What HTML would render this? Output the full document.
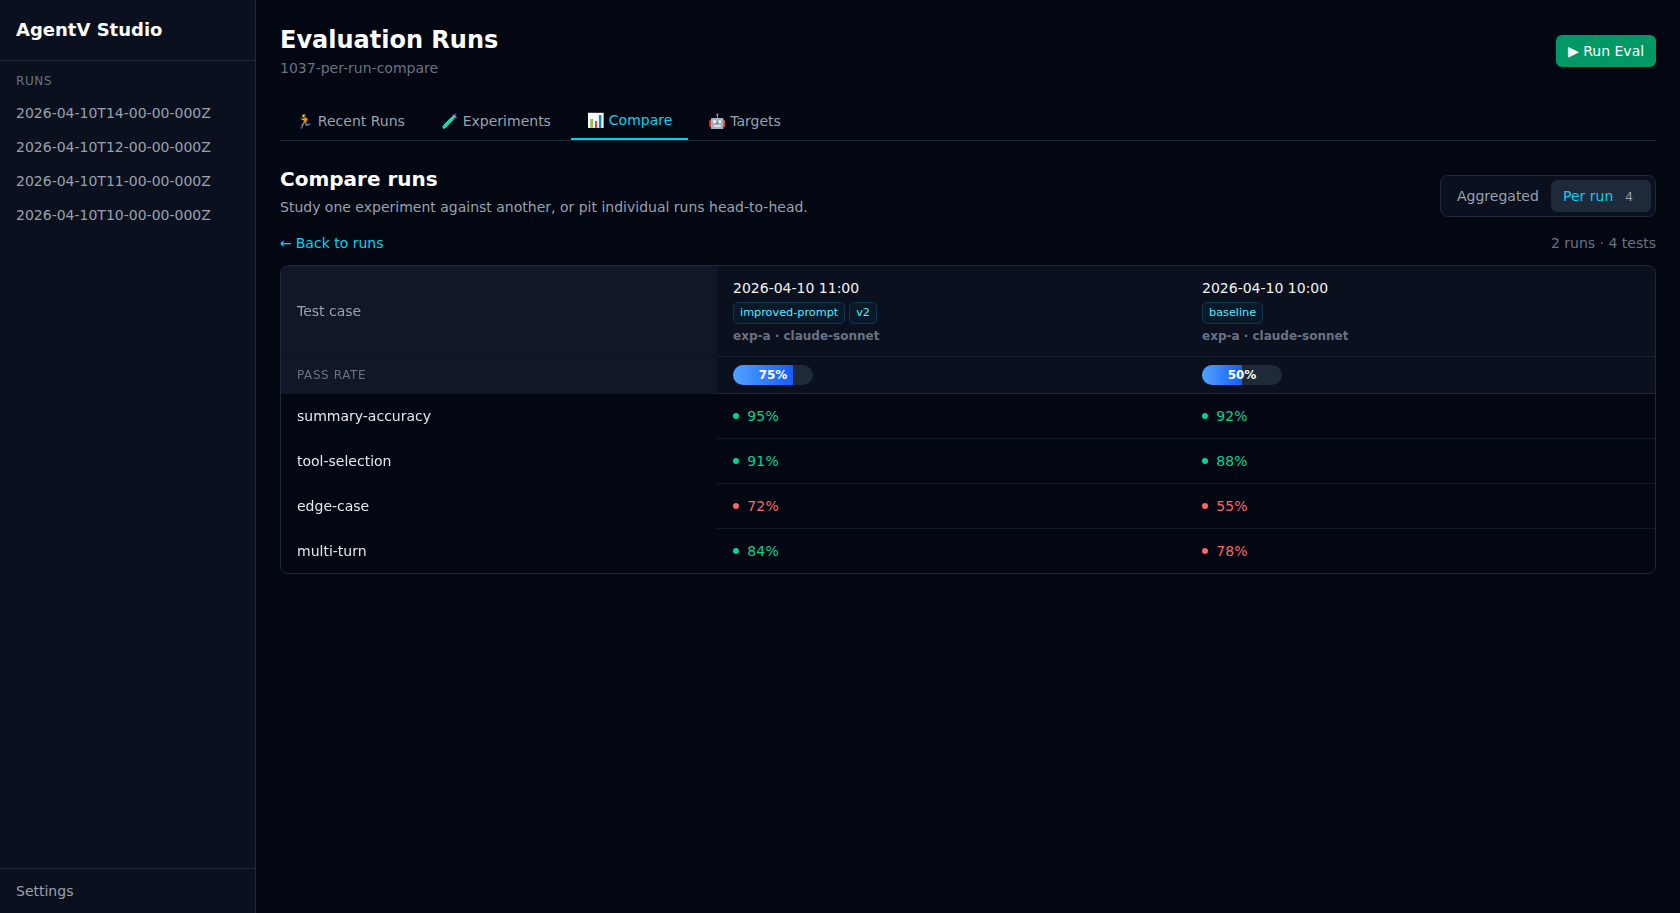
<!DOCTYPE html>
<html lang="en">
<head>
<meta charset="utf-8">
<title>AgentV Studio</title>
<style>
*{box-sizing:border-box;margin:0;padding:0}
html,body{width:1680px;height:913px;overflow:hidden;background:#030712}
body{font-family:"DejaVu Sans","Liberation Sans",sans-serif;font-size:14px;line-height:20px;color:#f3f4f6;position:relative}
svg{display:block}
/* sidebar */
.side{position:absolute;left:0;top:0;width:256px;height:913px;background:#0a101d;border-right:1px solid #1e2939}
.brand{height:61px;border-bottom:1px solid #1e2939;padding:16px 16px 0 16px;font-size:18px;line-height:28px;font-weight:700;color:#fff}
.slabel{position:absolute;left:16px;top:73px;font-size:12px;line-height:16px;letter-spacing:.6px;color:#6a7282;text-transform:uppercase}
.sitem{position:absolute;left:16px;font-size:14px;line-height:20px;color:#99a1af}
.sfoot{position:absolute;left:0;bottom:0;width:255px;height:45px;border-top:1px solid #1e2939;padding:12px 16px 0;color:#99a1af}
/* main */
.main{position:absolute;left:256px;top:0;width:1424px;height:913px}
h1{position:absolute;left:24px;top:24px;font-size:24px;line-height:32px;font-weight:700;color:#fff}
.sub{position:absolute;left:24px;top:58px;font-size:14px;line-height:20px;color:#6a7282}
.btn{position:absolute;left:1300px;top:35px;width:100px;height:32px;border-radius:6px;background:#009966;color:#fff;font-size:14px;line-height:32px;padding-left:12px;white-space:nowrap}
.tabs{position:absolute;left:24px;top:102px;width:1376px;height:39px;border-bottom:1px solid #1e2939;display:flex;gap:4px}
.tab{position:relative;height:38px;padding:9px 16px 0;color:#99a1af;font-size:14px;line-height:20px;white-space:nowrap}
.tab.on{color:#00d3f2;border-bottom:2px solid #00d3f2;padding-top:8px}
.ico{display:inline-block;width:17.43px;height:1px}
.tabs svg{position:absolute;top:6px;width:30px;height:26px;overflow:visible}
h2{position:absolute;left:24px;top:165px;font-size:20px;line-height:28px;font-weight:700;color:#fff}
.desc{position:absolute;left:24px;top:197px;color:#99a1af}
.back{position:absolute;left:24px;top:233px;color:#00d3f2}
.count{position:absolute;right:24px;top:233px;color:#6a7282}
.seg{position:absolute;left:1184px;top:175px;width:216px;height:42px;border:1px solid #1e2939;border-radius:8px;background:#0a101d}
.seg>span{position:absolute;top:4px;height:32px;line-height:32px;border-radius:6px;font-size:14px;white-space:nowrap}
.seg i{font-style:normal;font-size:12px;color:#99a1af;margin-left:6px;padding:0 6px}
/* table */
.tbl{position:absolute;left:24px;top:265px;width:1376px;height:309px;border:1px solid #1e2939;border-radius:8px;overflow:hidden}
.tbl div{position:absolute}
.c0{left:0;width:436px}
.c1{left:436px;width:469px}
.c2{left:905px;width:469px}
.hd{top:0;height:90px}
.pr{top:91px;height:36px}
.c0.pr{height:37px}
.c0.hd,.c0.pr{background:#101828}
.c1.hd,.c2.hd,.c1.pr,.c2.pr{background:#0a101d}
.ln{left:0;width:1374px;height:1px;background:#1e2939}
.ln2{left:436px;width:938px;height:1px;background:#111a2a}
.name{left:16px;font-size:14px;line-height:20px;color:#e5e7eb;white-space:nowrap;will-change:transform}
.date{left:16px;top:12px;font-size:14px;line-height:20px;color:#f3f4f6;white-space:nowrap}
.chips{left:16px;top:36px;height:22px;white-space:nowrap;display:flex;gap:4px}
.chips span{display:block;height:22px;border:1px solid #0e384c;background:#08192a;border-radius:5px;padding:0 6px;font-size:11.25px;line-height:20px;color:#53eafd}
.meta{left:16px;top:62px;font-size:12px;line-height:16px;font-weight:700;color:#6a7282;white-space:nowrap}
.bar{left:16px;top:8px;width:80px;height:20px;border-radius:10px;background:#1e2939;overflow:hidden}
.bar b{position:absolute;left:0;top:0;height:20px;background:linear-gradient(90deg,#51a2ff,#155dfc)}
.bar em{position:absolute;left:0;top:0;width:80px;height:20px;text-align:center;font-style:normal;font-weight:700;font-size:12px;line-height:20px;color:#fff}
.sc{left:16px;font-size:14px;line-height:20px;white-space:nowrap;padding-left:14.2px;letter-spacing:.25px}
.sc:before{content:"";position:absolute;left:0;top:7px;width:6px;height:6px;border-radius:3px;background:currentColor}
.c2 .sc{letter-spacing:.1px}
.ok{color:#00d492}
.no{color:#ff6467}
</style>
</head>
<body>
<div class="side">
  <div class="brand">AgentV Studio</div>
  <div class="slabel">RUNS</div>
  <div class="sitem" style="top:103px">2026-04-10T14-00-00-000Z</div>
  <div class="sitem" style="top:137px">2026-04-10T12-00-00-000Z</div>
  <div class="sitem" style="top:171px">2026-04-10T11-00-00-000Z</div>
  <div class="sitem" style="top:205px">2026-04-10T10-00-00-000Z</div>
  <div class="sfoot">Settings</div>
</div>
<div class="main">
  <h1>Evaluation Runs</h1>
  <div class="sub">1037-per-run-compare</div>
  <div class="btn">&#9654; Run Eval</div>
  <div class="tabs">
    <svg style="left:12px" viewBox="0 0 30 26"><ellipse cx="12.1" cy="7.1" rx="1.8" ry="1.7" fill="#6b4226"/><circle cx="11.5" cy="8.1" r="1.25" fill="#fcc21b"/><path d="M11.1 9.4 L15.1 9.8 L14.3 14 L11.9 14 Z" fill="#ff8a00"/><path d="M11.6 11.6 L10 11.3 L8.9 10.4" stroke="#fcc21b" stroke-width="1" fill="none" stroke-linecap="round"/><path d="M14.9 11 L15.2 12.3" stroke="#fcc21b" stroke-width="1" fill="none" stroke-linecap="round"/><path d="M12.4 14.2 L10.5 17 L10 19" stroke="#8c8c8c" stroke-width="1.4" fill="none" stroke-linecap="round" stroke-linejoin="round"/><path d="M13.4 14.3 L14.4 17 L16.9 16.6" stroke="#8c8c8c" stroke-width="1.4" fill="none" stroke-linecap="round" stroke-linejoin="round"/><ellipse cx="9.4" cy="19.9" rx="1.3" ry=".8" fill="#36529c"/><ellipse cx="17.8" cy="16.1" rx="1" ry="1" fill="#36529c"/></svg>
    <svg style="left:156px" viewBox="0 0 30 26"><path d="M8.2 18.9 L18.2 8.6" stroke="#7d97cf" stroke-width="3.4" stroke-linecap="round"/><path d="M8.2 18.9 L15.6 11.3" stroke="#10d8ae" stroke-width="3.4" stroke-linecap="round"/><path d="M17 7 L20.2 9.5" stroke="#7f9fd8" stroke-width="1.1" stroke-linecap="round"/><path d="M9.3 16.3 L15.6 9.9" stroke="#fff" stroke-opacity=".35" stroke-width=".7" stroke-linecap="round"/><circle cx="19.7" cy="6.4" r=".6" fill="#10d8ae"/></svg>
    <svg style="left:300px" viewBox="0 0 30 26"><rect x="8" y="4.8" width="15.6" height="15.1" fill="#fff"/><path d="M8.5 7.2H23M8.5 9.4H23M8.5 14.2H23" stroke="#e3e8ec" stroke-width=".5"/><rect x="10.3" y="11" width="2.8" height="8.8" fill="#8bc34a"/><rect x="15" y="13" width="2.1" height="6.9" fill="#f4372c"/><rect x="18.9" y="7" width="2.5" height="12.9" fill="#0288e8"/></svg>
    <svg style="left:422px" viewBox="0 0 30 26"><rect x="7.3" y="12" width="2.2" height="7" rx=".8" fill="#e53935"/><rect x="20.9" y="12" width="2.2" height="7" rx=".8" fill="#e53935"/><path d="M15.4 7.5V10.2" stroke="#9fb3bf" stroke-width=".9"/><circle cx="15.4" cy="6.7" r="1.1" fill="#9fb3bf"/><circle cx="15.5" cy="6.6" r=".5" fill="#e53935"/><rect x="9" y="10" width="12.4" height="11.1" rx=".7" fill="#9fb3bf"/><circle cx="12.45" cy="13.55" r="1.55" fill="#6f8490"/><path d="M12.45 12V15.1M10.9 13.55H14" stroke="#fff" stroke-width="1.5"/><rect x="17" y="12.3" width="2" height="2.7" rx=".5" fill="#fff"/><circle cx="15.4" cy="15.4" r=".8" fill="#e53935"/><rect x="12" y="17.1" width="6.8" height="1.7" fill="#dfe5e8"/></svg>
    <div class="tab"><span class="ico"></span> Recent Runs</div>
    <div class="tab"><span class="ico"></span> Experiments</div>
    <div class="tab on"><span class="ico"></span> Compare</div>
    <div class="tab"><span class="ico"></span> Targets</div>
  </div>
  <h2>Compare runs</h2>
  <div class="desc">Study one experiment against another, or pit individual runs head-to-head.</div>
  <div class="seg">
    <span style="left:4px;padding:0 12px;color:#99a1af">Aggregated</span>
    <span style="left:110px;width:100px;background:#1e2939;color:#00d3f2;padding-left:12px">Per run<i>4</i></span>
  </div>
  <div class="back"><span style="margin-right:-.45px">&#8592;</span> Back to runs</div>
  <div class="count">2 runs &middot; 4 tests</div>
  <div class="tbl">
    <div class="c0 hd"><div class="name" style="top:35px;color:#99a1af">Test case</div></div>
    <div class="c1 hd">
      <div class="date">2026-04-10 11:00</div>
      <div class="chips"><span>improved-prompt</span><span>v2</span></div>
      <div class="meta">exp-a &middot; claude-sonnet</div>
    </div>
    <div class="c2 hd">
      <div class="date">2026-04-10 10:00</div>
      <div class="chips"><span>baseline</span></div>
      <div class="meta">exp-a &middot; claude-sonnet</div>
    </div>
    <div class="ln" style="top:90px;width:436px;background:#0c1221"></div><div class="ln" style="top:90px;left:436px;width:938px;background:#182234"></div>
    <div class="c0 pr"><div class="name" style="top:10px;font-size:12px;line-height:16px;letter-spacing:.6px;color:#6a7282">PASS RATE</div></div>
    <div class="c1 pr"><div class="bar"><b style="width:60px"></b><em>75%</em></div></div>
    <div class="c2 pr"><div class="bar"><b style="width:40px"></b><em>50%</em></div></div>
    <div class="ln" style="top:127px;left:436px;width:938px"></div>

    <div class="c0" style="top:128px;height:44px"><div class="name" style="top:12px">summary-accuracy</div></div>
    <div class="c1" style="top:128px;height:44px"><div class="sc ok" style="top:12px">95%</div></div>
    <div class="c2" style="top:128px;height:44px"><div class="sc ok" style="top:12px">92%</div></div>
    <div class="ln2" style="top:172px"></div><div class="ln" style="top:172px;width:436px;background:#050915"></div>

    <div class="c0" style="top:173px;height:44px"><div class="name" style="top:12px">tool-selection</div></div>
    <div class="c1" style="top:173px;height:44px"><div class="sc ok" style="top:12px">91%</div></div>
    <div class="c2" style="top:173px;height:44px"><div class="sc ok" style="top:12px">88%</div></div>
    <div class="ln2" style="top:217px"></div><div class="ln" style="top:217px;width:436px;background:#050915"></div>

    <div class="c0" style="top:218px;height:44px"><div class="name" style="top:12px">edge-case</div></div>
    <div class="c1" style="top:218px;height:44px"><div class="sc no" style="top:12px">72%</div></div>
    <div class="c2" style="top:218px;height:44px"><div class="sc no" style="top:12px">55%</div></div>
    <div class="ln2" style="top:262px"></div><div class="ln" style="top:262px;width:436px;background:#050915"></div>

    <div class="c0" style="top:263px;height:44px"><div class="name" style="top:12px">multi-turn</div></div>
    <div class="c1" style="top:263px;height:44px"><div class="sc ok" style="top:12px">84%</div></div>
    <div class="c2" style="top:263px;height:44px"><div class="sc no" style="top:12px">78%</div></div>
  </div>
</div>
</body>
</html>
